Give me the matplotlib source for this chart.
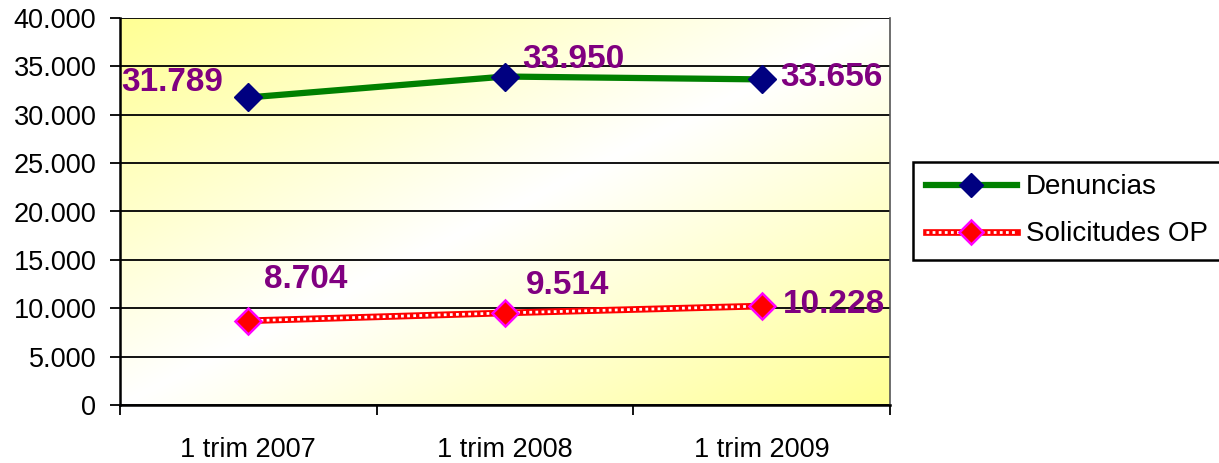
import numpy as np
import matplotlib
matplotlib.use("Agg")
import matplotlib.pyplot as plt
from matplotlib.lines import Line2D
from matplotlib.legend_handler import HandlerTuple
from matplotlib.ticker import FuncFormatter, FixedLocator

plt.rcParams["font.family"] = ["Liberation Sans", "DejaVu Sans"]

# data
periods = ["1 trim 2007", "1 trim 2008", "1 trim 2009"]
denuncias = [31789, 33950, 33656]
solicitudes = [8704, 9514, 10228]
den_label_offsets = [(-55, 11), (49, 12), (50, 1)]
sol_label_offsets = [(41, 30), (45, 20), (52, 1)]

GREEN = "#008000"
NAVY = "#000080"
PURPLE = "#800080"


def thousands(v, _pos):
    return f"{int(v):,}".replace(",", ".")


fig = plt.figure(figsize=(12.19, 4.63), dpi=100)
ax = fig.add_axes([120 / 1219, 1 - 405 / 463, 770 / 1219, 387 / 463])

# diagonal yellow-white-yellow gradient background
n = 300
gx, gy = np.meshgrid(np.linspace(0, 1, n), np.linspace(1, 0, n))
d = np.abs(gx - gy)
yellow = np.array([1.0, 1.0, 0.58])
white = np.array([1.0, 1.0, 1.0])
img = white[None, None, :] * (1 - d[..., None]) + yellow[None, None, :] * d[..., None]
ax.imshow(img, extent=(0, 1, 0, 1), transform=ax.transAxes, aspect="auto", zorder=0)

x = np.arange(len(periods))

# Denuncias
ax.plot(x, denuncias, color=GREEN, lw=4.5, zorder=3, solid_capstyle="butt")
ax.plot(x, denuncias, ls="none", marker="D", ms=14, mfc=NAVY, mec=NAVY, zorder=4)

# Solicitudes OP: red band with white squares inside
ax.plot(x, solicitudes, color="red", lw=4.8, zorder=3, solid_capstyle="butt")
ax.plot(x, solicitudes, color="white", lw=2.0, dashes=(1.0, 1.2), zorder=3.5)
ax.plot(x, solicitudes, ls="none", marker="D", ms=13, mfc="red", mec="#ff00ff",
        mew=1.8, zorder=4)

for xi, v, off in zip(x, denuncias, den_label_offsets):
    ax.annotate(thousands(v, None), (xi, v), xytext=off, textcoords="offset points",
                ha="center", va="center", fontsize=24, fontweight="bold",
                color=PURPLE, zorder=5)
for xi, v, off in zip(x, solicitudes, sol_label_offsets):
    ax.annotate(thousands(v, None), (xi, v), xytext=off, textcoords="offset points",
                ha="center", va="center", fontsize=24, fontweight="bold",
                color=PURPLE, zorder=5)

ax.set_xlim(-0.5, len(periods) - 0.5)
ax.set_ylim(0, 40000)
ax.set_yticks(np.arange(0, 40001, 5000))
ax.yaxis.set_major_formatter(FuncFormatter(thousands))
ax.yaxis.grid(True, color="black", lw=1.3)
ax.set_axisbelow(True)

ax.xaxis.set_major_locator(FixedLocator(np.arange(-0.5, len(periods), 1.0)))
ax.xaxis.set_minor_locator(FixedLocator(x))
ax.set_xticklabels([])
ax.set_xticklabels(periods, minor=True)
ax.tick_params(axis="x", which="major", direction="out", length=7, width=1.3)
ax.tick_params(axis="x", which="minor", length=0, pad=23, labelsize=19.5)
ax.tick_params(axis="y", direction="out", length=7, width=1.3, pad=10, labelsize=19.5)

for side in ["left", "bottom"]:
    ax.spines[side].set_linewidth(1.8)
    ax.spines[side].set_color("black")
ax.spines["top"].set_visible(False)
ax.spines["right"].set_color("#555555")
ax.spines["right"].set_linewidth(1.2)

h_den = Line2D([], [], color=GREEN, lw=4.5, marker="D", ms=12, mfc=NAVY, mec=NAVY)
h_sol = (Line2D([], [], color="red", lw=4.8),
         Line2D([], [], color="white", lw=2.0, dashes=(1.0, 1.2)),
         Line2D([], [], ls="none", marker="D", ms=12, mfc="red", mec="#ff00ff", mew=1.8))
leg = fig.legend([h_den, h_sol], ["Denuncias", "Solicitudes OP"],
                 handler_map={tuple: HandlerTuple(ndivide=1, pad=0)},
                 loc="upper left", bbox_to_anchor=(913 / 1219, 1 - 162 / 463),
                 borderaxespad=0, fontsize=20, handlelength=3.3, handletextpad=0.3,
                 borderpad=0.45, labelspacing=0.75, fancybox=False, framealpha=1)
leg.get_frame().set_edgecolor("black")
leg.get_frame().set_linewidth(1.8)

fig.savefig("out.png", dpi=100)
